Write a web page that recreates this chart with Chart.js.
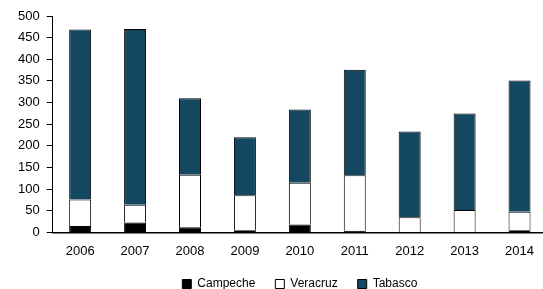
<!DOCTYPE html>
<html>
<head>
<meta charset="utf-8">
<script src="https://cdn.jsdelivr.net/npm/chart.js"></script>
<style>
  html, body { margin: 0; padding: 0; background: #fff; overflow: hidden; }
  #wrap { width: 606px; height: 300px; }
</style>
</head>
<body>
<div id="wrap"><canvas id="stacked_chart"></canvas></div>
<script>
const years = ["2006","2007","2008","2009","2010","2011","2012","2013","2014"];
const campeche = [15, 23, 12, 5, 18, 4, 1, 1, 5];
const veracruz = [61, 41, 121, 81, 97, 128, 34, 51, 43];
const tabasco = [393, 406, 177, 134, 169, 244, 198, 223, 303];

Chart.defaults.font.family = "'Liberation Sans', Arial, sans-serif";
Chart.defaults.color = "#000";

new Chart("stacked_chart", {
  type: "bar",
  data: {
    labels: years,
    datasets: [{
      label: "Campeche",
      data: campeche,
      backgroundColor: "#000",
      borderColor: "#000",
      borderWidth: 1
    }, {
      label: "Veracruz",
      data: veracruz,
      backgroundColor: "#fff",
      borderColor: "#000",
      borderWidth: 1
    }, {
      label: "Tabasco",
      data: tabasco,
      backgroundColor: "#144760",
      borderColor: "#000",
      borderWidth: 1
    }]
  },
  options: {
    responsive: true,
    maintainAspectRatio: false,
    animation: false,
    datasets: { bar: { categoryPercentage: 0.8, barPercentage: 0.5 } },
    // canvas is wider/taller than the window, so the legend lines up as in the picture
    layout: { padding: { left: 11, right: 59, top: 16, bottom: 0 } },
    plugins: {
      legend: {
        position: "bottom",
        fullSize: false,
        labels: { boxWidth: 9, boxHeight: 9, padding: 20, font: { size: 12 } }
      },
      tooltip: { enabled: false }
    },
    scales: {
      x: {
        stacked: true,
        grid: { display: false },
        border: { color: "#000", width: 1.5 },
        ticks: { font: { size: 13 }, padding: 3 },
        afterFit: (scale) => { scale.height -= 4; }
      },
      y: {
        stacked: true,
        min: 0,
        max: 500,
        ticks: { stepSize: 50, font: { size: 13 }, padding: 7 },
        grid: { drawOnChartArea: false, tickLength: 6, color: "#000" },
        border: { color: "#000", width: 1 }
      }
    }
  }
});
</script>
</body>
</html>
